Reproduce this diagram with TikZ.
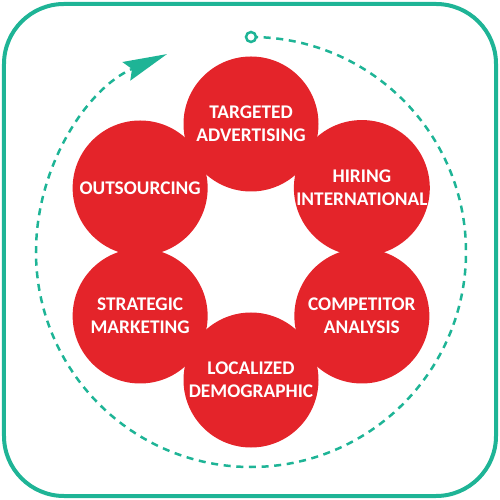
\documentclass[tikz,border=0pt]{standalone}
\usepackage{fontspec}
\setmainfont{Carlito}
\usepackage{tikz}
\usetikzlibrary{arrows.meta}

\definecolor{ringred}{RGB}{228,36,42}
\definecolor{cycleteal}{RGB}{30,180,150}

\begin{document}
\begin{tikzpicture}[
  topic/.style={circle, fill=ringred, minimum size=2.7cm, inner sep=0pt, align=center,
    text=white, font=\fontsize{11}{13}\selectfont\bfseries},
  cycle/.style={cycleteal, line width=0.05cm, dash pattern=on 4pt off 3.2pt},
  tip/.style={-{Stealth[length=0.88cm, width=0.4cm, inset=0.12cm]}}
]
\useasboundingbox (-5,-5) rectangle (5,5);
\draw[cycleteal, line width=0.08cm, rounded corners=1.2cm] (-4.92,-4.92) rectangle (4.92,4.92);

\begin{scope}[shift={(0.02,-0.04)}]
\node[topic] (advertising) at (90:2.56) {TARGETED\\ADVERTISING};
\node[topic] (hiring) at (30:2.56) {HIRING\\INTERNATIONAL};
\node[topic] (competitor) at (-30:2.56) {COMPETITOR\\ANALYSIS};
\node[topic] (demographic) at (-90:2.56) {LOCALIZED\\DEMOGRAPHIC};
\node[topic] (strategic) at (-150:2.56) {STRATEGIC\\MARKETING};
\node[topic] (outsourcing) at (150:2.56) {OUTSOURCING};

% dashed cycle round the ring
\draw[cycle, tip] (90:4.3) arc[start angle=90, end angle=-247, radius=4.3];
\node[circle, draw=cycleteal, fill=white, line width=0.05cm, minimum size=0.2cm, inner sep=0pt] (start) at (90:4.3) {};
\end{scope}
\end{tikzpicture}
\end{document}
